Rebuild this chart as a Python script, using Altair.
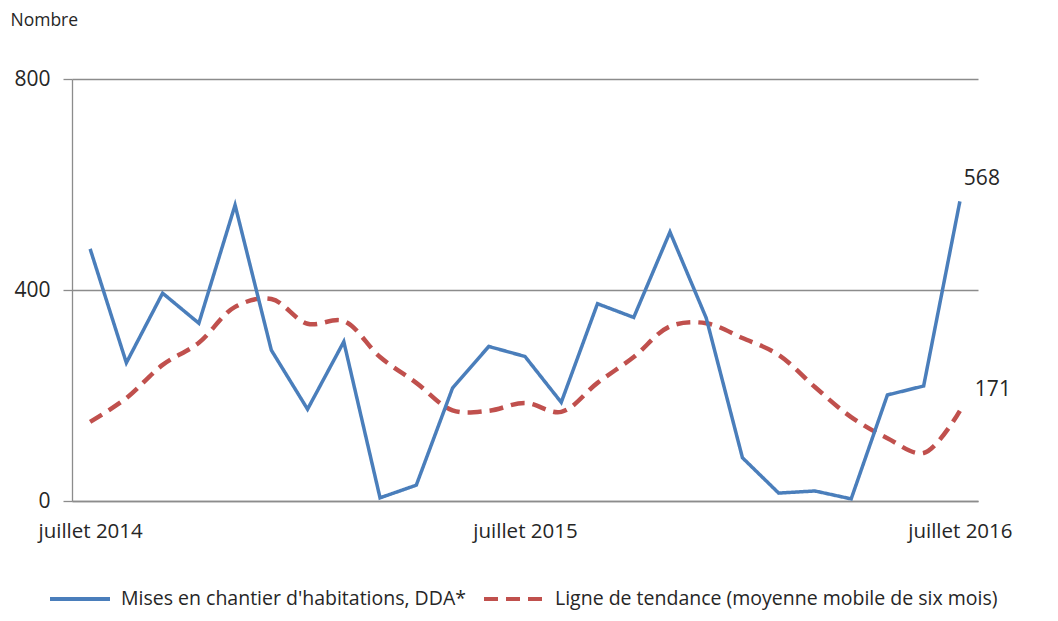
import altair as alt
import pandas as pd

months = list(range(25))
tick_labels = {0: "juillet 2014", 12: "juillet 2015", 24: "juillet 2016"}
mises = [478, 262, 394, 337, 561, 286, 174, 302, 6, 30, 214, 293, 274, 187,
         374, 348, 510, 347, 82, 15, 19, 4, 201, 218, 568]
tendance = [150, 195, 258, 300, 368, 383, 336, 341, 273, 224, 172, 171, 186, 169,
            224, 273, 331, 337, 309, 277, 216, 159, 119, 91, 171]
s1 = "Mises en chantier d'habitations, DDA*"
s2 = "Ligne de tendance (moyenne mobile de six mois)"

df = pd.DataFrame(
    [{"m": m, "v": v, "s": s1} for m, v in zip(months, mises)]
    + [{"m": m, "v": v, "s": s2} for m, v in zip(months, tendance)]
)

FONT = "Open Sans"
TXT = "#262626"
GRID = "#8c8c8c"

label_expr = "datum.value == 0 ? 'juillet 2014' : datum.value == 12 ? 'juillet 2015' : datum.value == 24 ? 'juillet 2016' : ''"

x = alt.X("m:Q", scale=alt.Scale(domain=[-0.5, 24.5], nice=False, zero=False),
          axis=alt.Axis(values=[0, 12, 24], labelExpr=label_expr, title=None,
                        grid=False, ticks=False, domainColor=GRID, domainWidth=1.3,
                        labelFont=FONT, labelFontSize=20.5, labelColor=TXT,
                        labelPadding=20, labelFlush=False))
y = alt.Y("v:Q", scale=alt.Scale(domain=[0, 800], nice=False),
          axis=alt.Axis(values=[0, 400, 800], title="Nombre", titleAngle=0,
                        titleAlign="left", titleBaseline="alphabetic",
                        titleX=-62, titleY=-54, titleFont=FONT, titleFontSize=17.5,
                        titleFontWeight="normal", titleColor=TXT,
                        grid=True, gridColor=GRID, gridWidth=1.3,
                        domainColor=GRID, domainWidth=1.3,
                        tickColor=GRID, tickSize=9, tickWidth=1.3,
                        labelFont=FONT, labelFontSize=21, labelColor=TXT,
                        labelPadding=13))

color = alt.Color("s:N", scale=alt.Scale(domain=[s1, s2], range=["#4a7ebb", "#c0504d"]),
                  legend=alt.Legend(title=None, orient="none", direction="horizontal",
                                    legendX=-24, legendY=506, clipHeight=28,
                                    symbolType="stroke", symbolSize=3600,
                                    symbolStrokeWidth=4, labelFont=FONT,
                                    labelFontSize=19.5, labelColor=TXT,
                                    labelOffset=9, columnPadding=16,
                                    labelLimit=700))
dash = alt.StrokeDash("s:N", scale=alt.Scale(domain=[s1, s2], range=[[1, 0], [14, 8]]),
                      legend=None)

blue = alt.Chart(df).transform_filter(alt.datum.s == s1).mark_line(
    strokeWidth=3.5).encode(x=x, y=y, color=color, strokeDash=dash)
red = alt.Chart(df).transform_filter(alt.datum.s == s2).mark_line(
    strokeWidth=4.5, interpolate="catmull-rom").encode(x=x, y=y, color=color, strokeDash=dash)

last1 = alt.Chart(df).transform_filter((alt.datum.s == s1) & (alt.datum.m == 24)).mark_text(
    font=FONT, fontSize=21, color=TXT, dx=22, dy=-22).encode(x="m:Q", y="v:Q", text="v:Q")
last2 = alt.Chart(df).transform_filter((alt.datum.s == s2) & (alt.datum.m == 24)).mark_text(
    font=FONT, fontSize=21, color=TXT, dx=33, dy=-21).encode(x="m:Q", y="v:Q", text="v:Q")

chart = alt.layer(red, blue, last1, last2).properties(
    width=906, height=422,
    autosize=alt.AutoSizeParams(type="none"),
    padding={"left": 64, "top": 71, "right": 70, "bottom": 112},
).configure(background="white", view=alt.ViewConfig(stroke=None))

chart.save("out.html", embed_options={"renderer": "svg", "actions": False})
